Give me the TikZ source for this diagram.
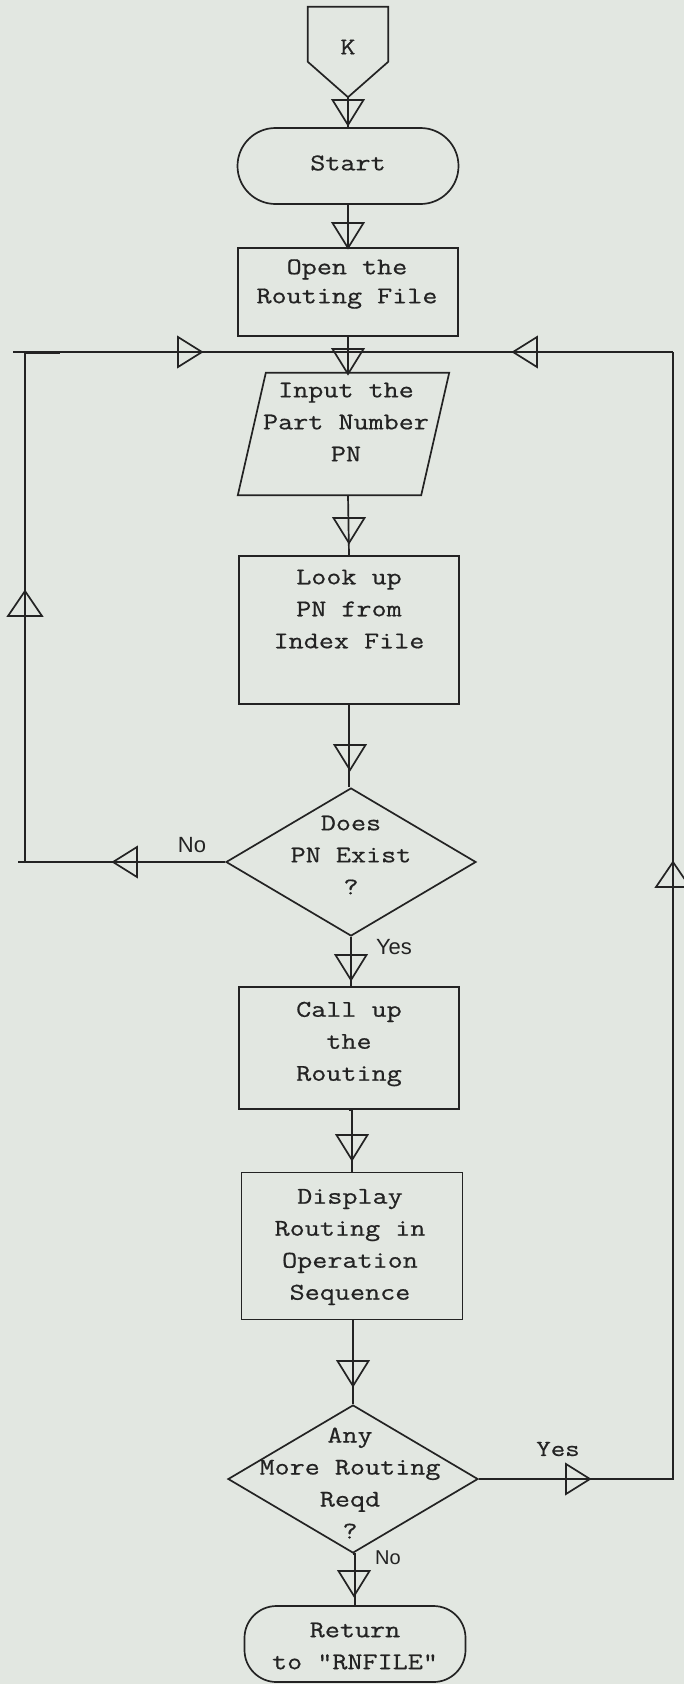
\documentclass[tikz,border=0pt]{standalone}
\usepackage{fontspec}
\usetikzlibrary{shapes.geometric,calc}
\newfontfamily\twfont[FakeStretch=1.22,FakeBold=0.6]{Latin Modern Mono}
\newfontfamily\hwfont{Liberation Sans}
\definecolor{paper}{RGB}{226,231,225}
\definecolor{ink}{RGB}{35,35,35}
\tikzset{
  ln/.style={draw=ink, line width=1.7pt, line join=miter},
  txt/.style={font=\twfont\fontsize{24}{32}\selectfont, text=ink, align=center, inner sep=0pt},
  hand/.style={font=\hwfont\fontsize{22}{24}\selectfont, text=ink, inner sep=0pt},
  procbox/.style={ln, rectangle, inner sep=0pt, minimum width=220pt},
  termbox/.style={ln, rectangle, rounded corners=38pt, inner sep=0pt, minimum width=221pt, minimum height=76pt},
  decbox/.style={ln, diamond, inner sep=0pt, minimum width=250pt, minimum height=148pt},
  ghost/.style={rectangle, inner sep=0pt},
  tridn/.pic={\draw[ln] (-15.5,0) -- (15.5,0) -- (0,25) -- cycle;},
  triup/.pic={\draw[ln] (-17,0) -- (17,0) -- (0,-25) -- cycle;},
  trirt/.pic={\draw[ln] (0,-15) -- (0,15) -- (24,0) -- cycle;},
  trilf/.pic={\draw[ln] (0,-15) -- (0,15) -- (-24,0) -- cycle;}
}
\begin{document}
\begin{tikzpicture}[x=1pt,y=-1pt]
\fill[paper] (0,0) rectangle (684,1684);
\useasboundingbox (0,0) rectangle (684,1684);

% off-page connector K
\node[ghost, minimum width=80pt, minimum height=90pt] (K) at (348,52) {};
\draw[ln] (K.north west) -- (K.north east) -- ($(K.north east)+(0,55)$) -- (K.south) -- ($(K.north west)+(0,55)$) -- cycle;
\node[txt] (Ktxt) at (348,47) {K};

% nodes
\node[termbox] (start) at (348,166) {};
\node[txt] (starttxt) at (348,163) {Start};

\node[procbox, minimum height=88pt] (open) at (348,292) {};
\node[txt, font=\twfont\fontsize{24}{29}\selectfont] (opentxt) at (347,284) {Open the\\Routing File};

\node[ghost, minimum width=211pt, minimum height=122pt] (input) at (343.5,434) {};
\draw[ln] ($(input.north west)+(28,0)$) -- (input.north east) -- ($(input.south east)+(-28,0)$) -- (input.south west) -- cycle;
\node[txt] (inputtxt) at (346,422) {Input the\\Part Number\\PN};

\node[procbox, minimum height=148pt] (lookup) at (349,630) {};
\node[txt] (lookuptxt) at (349,609) {Look up\\PN from\\Index File};

\node[decbox] (dec1) at (351,862) {};
\node[txt] (dec1txt) at (351,855) {Does\\PN Exist\\?};

\node[procbox, minimum height=122pt] (callup) at (349,1048) {};
\node[txt] (calluptxt) at (349,1044) {Call up\\the\\Routing};

\node[procbox, minimum width=221pt, minimum height=147pt] (display) at (352,1246) {};
\node[txt] (displaytxt) at (350,1247) {Display\\Routing in\\Operation\\Sequence};

\node[decbox] (dec2) at (353,1479) {};
\node[txt] (dec2txt) at (350,1483) {Any\\More Routing\\Reqd\\?};

\node[termbox, rounded corners=32pt] (ret) at (355,1644) {};
\node[txt] (rettxt) at (355,1646) {Return\\to "RNFILE"};

% junction coordinates
\coordinate (jn) at (348,352);
\coordinate (tl) at (25,352);
\coordinate (tlx) at (13,352);
\coordinate (tr) at (673,352);
\coordinate (nl) at (25,862);
\coordinate (nlx) at (18,862);
\coordinate (br) at (673,1479);

% connectors
\draw[ln] (K.south) -- (start.north);
\draw[ln] (start.south) -- (open.north);
\draw[ln] (open.south) -- (jn) -- (jn |- input.north);
\draw[ln] (tlx) -- (tr);
\draw[draw=ink, line width=3pt] (tl) -- ++(35,0);
\draw[ln] (input.south -| jn) -- (lookup.north);
\draw[ln] (lookup.south) -- (lookup.south |- dec1.north);
\draw[ln] (dec1.west) -- (nlx);
\draw[ln] (nl) -- (tl);
\draw[ln] (dec1.south) -- (dec1.south |- callup.north);
\draw[ln] (callup.south) -- (callup.south -| display.north) -- (display.north);
\draw[ln] (display.south) -- (display.south -| dec2.north) -- (dec2.north);
\draw[ln] (dec2.east) -- (br) -- (tr);
\draw[ln] (dec2.south) -- (dec2.south -| ret.north) -- (ret.north);

% arrowheads
\pic at (348,100) {tridn};
\pic at (348,223) {tridn};
\pic at (348,349) {tridn};
\pic at (349,518) {tridn};
\pic at (350,745) {tridn};
\pic at (351,955) {tridn};
\pic at (352,1135) {tridn};
\pic at (353,1361) {tridn};
\pic at (354,1571) {tridn};
\pic at (178,352) {trirt};
\pic at (537,352) {trilf};
\pic at (25,616) {triup};
\pic at (673,887) {triup};
\pic at (137,862) {trilf};
\pic at (566,1479) {trirt};

% labels
\node[hand] (no1) at (192,845) {No};
\node[hand] (yes1) at (394,947) {Yes};
\node[txt, font=\twfont\fontsize{23}{28}\selectfont] (yes2) at (558,1449) {Yes};
\node[hand, font=\hwfont\fontsize{20}{22}\selectfont] (no2) at (388,1558) {No};
\end{tikzpicture}
\end{document}
